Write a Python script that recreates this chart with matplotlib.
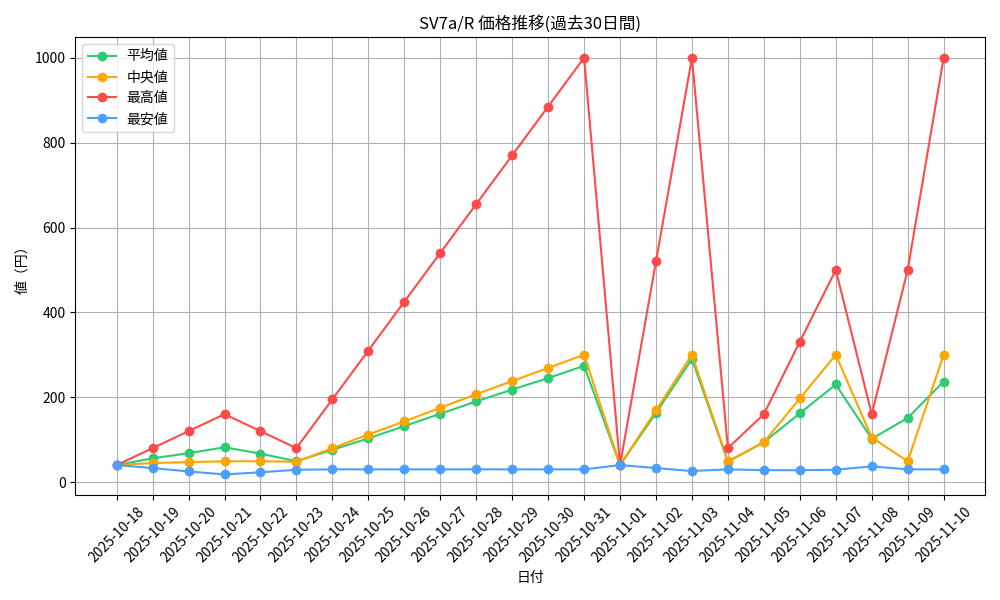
import matplotlib
matplotlib.use('Agg')
import matplotlib.pyplot as plt

plt.rcParams['font.family'] = ['Noto Sans CJK JP', 'DejaVu Sans']

dates = [
  '2025-10-18', '2025-10-19', '2025-10-20', '2025-10-21', '2025-10-22', '2025-10-23',
  '2025-10-24', '2025-10-25', '2025-10-26', '2025-10-27', '2025-10-28', '2025-10-29',
  '2025-10-30', '2025-10-31', '2025-11-01', '2025-11-02', '2025-11-03', '2025-11-04',
  '2025-11-05', '2025-11-06', '2025-11-07', '2025-11-08', '2025-11-09', '2025-11-10',
]
avg_prices = [40, 56, 68, 82, 67, 49, 76, 103, 132, 161, 190, 218,
              245, 274, 40, 163, 290, 48, 94, 162, 230, 102, 151, 237]
median_prices = [40, 45, 47, 49, 49, 48, 80, 112, 143, 175, 207, 238,
                 269, 300, 40, 169, 300, 49, 94, 197, 300, 105, 49, 300]
max_prices = [40, 80, 120, 160, 120, 80, 195, 310, 425, 540, 655, 770,
              885, 1000, 40, 520, 1000, 80, 160, 331, 500, 160, 500, 1000]
min_prices = [40, 33, 25, 18, 23, 29, 30, 30, 30, 30, 30, 30,
              30, 30, 40, 33, 26, 30, 28, 28, 29, 37, 30, 30]

series = [
  ('平均値', avg_prices, '#2ecc71'),
  ('中央値', median_prices, '#ffa500'),
  ('最高値', max_prices, '#ff4a4a'),
  ('最安値', min_prices, '#4d9fff'),
]

fig, ax = plt.subplots(figsize=(10, 6), dpi=100)
for label, values, color in series:
  ax.plot(dates, values, '-o', color=color, label=label, linewidth=1.5, markersize=6)

ax.set_title('SV7a/R 価格推移(過去30日間)')
ax.set_xlabel('日付')
ax.set_ylabel('値（円）')
ax.grid(True)
ax.legend(loc='upper left')
plt.xticks(rotation=45)
fig.tight_layout()
fig.savefig('out.png')
